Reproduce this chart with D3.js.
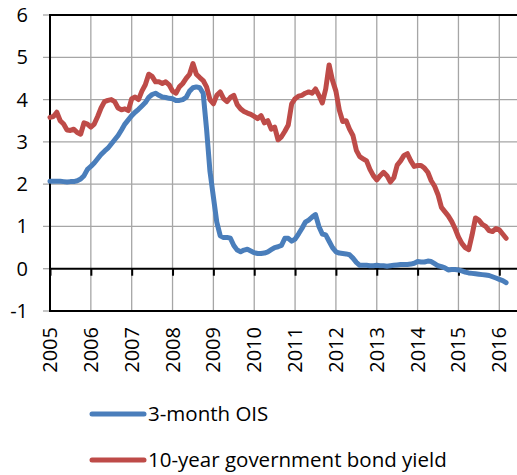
<!DOCTYPE html>
<html>
<head>
<meta charset="utf-8">
<script src="https://cdn.jsdelivr.net/npm/d3@7"></script>
<style>
  body { margin: 0; background: #fff; }
  text { font-family: "Open Sans", "Noto Sans", sans-serif; fill: #000; }
</style>
</head>
<body>
<div id="chart"></div>
<script>
// monthly, Jan 2005 .. Mar 2016
var startYear = 2005;
var oisValues = [
  2.07, 2.07, 2.07, 2.07, 2.06, 2.05, 2.06, 2.06, 2.08, 2.12, 2.2, 2.35,
  2.42, 2.5, 2.6, 2.7, 2.78, 2.85, 2.95, 3.05, 3.15, 3.28, 3.42, 3.52,
  3.62, 3.7, 3.77, 3.85, 3.93, 4.05, 4.12, 4.15, 4.1, 4.06, 4.05, 4.03,
  4.02, 3.98, 3.98, 4.0, 4.05, 4.2, 4.28, 4.3, 4.28, 4.15, 3.3, 2.3,
  1.7, 1.1, 0.78, 0.74, 0.74, 0.72, 0.55, 0.44, 0.4, 0.44, 0.46, 0.42,
  0.38, 0.36, 0.36, 0.37, 0.4, 0.45, 0.5, 0.52, 0.55, 0.72, 0.72, 0.65,
  0.7, 0.82, 0.95, 1.1, 1.15, 1.22, 1.28, 1.0, 0.82, 0.8, 0.65, 0.5,
  0.4, 0.37, 0.36, 0.35, 0.33, 0.25, 0.15, 0.08, 0.08, 0.08, 0.07, 0.07,
  0.08, 0.07, 0.07, 0.06, 0.07, 0.08, 0.09, 0.1, 0.1, 0.1, 0.11, 0.13,
  0.17, 0.16, 0.16, 0.18, 0.17, 0.12, 0.07, 0.05, 0.02, -0.03, -0.02, -0.02,
  -0.03, -0.05, -0.08, -0.1, -0.11, -0.12, -0.13, -0.14, -0.15, -0.16, -0.19, -0.22,
  -0.25, -0.28, -0.33
];
var bondValues = [
  3.58, 3.6, 3.7, 3.5, 3.42, 3.28, 3.27, 3.3, 3.22, 3.18, 3.45, 3.42,
  3.35, 3.42, 3.6, 3.8, 3.95, 3.98, 4.0, 3.95, 3.8, 3.76, 3.78, 3.74,
  4.02, 4.06, 4.0, 4.2, 4.35, 4.6, 4.55, 4.42, 4.42, 4.38, 4.42, 4.35,
  4.2, 4.15, 4.3, 4.38, 4.5, 4.6, 4.85, 4.6, 4.52, 4.45, 4.3, 4.0,
  3.9, 4.1, 4.18, 4.02, 3.95, 4.05, 4.1, 3.88, 3.78, 3.72, 3.68, 3.65,
  3.6, 3.55, 3.62, 3.45, 3.5, 3.3, 3.35, 3.05, 3.12, 3.25, 3.4, 3.9,
  4.02, 4.08, 4.1, 4.15, 4.18, 4.15, 4.25, 4.1, 3.92, 4.25, 4.82, 4.45,
  4.2, 3.75, 3.48, 3.5, 3.3, 3.15, 2.8, 2.65, 2.6, 2.55, 2.35, 2.2,
  2.1, 2.2, 2.28, 2.2, 2.05, 2.15, 2.45, 2.55, 2.68, 2.72, 2.55, 2.42,
  2.44, 2.44, 2.38, 2.28, 2.08, 1.95, 1.75, 1.45, 1.35, 1.25, 1.12, 0.95,
  0.75, 0.6, 0.5, 0.45, 0.8, 1.2, 1.15, 1.05, 1.0, 0.9, 0.88, 0.95,
  0.92, 0.82, 0.72
];
var yearTicks = [2005, 2006, 2007, 2008, 2009, 2010, 2011, 2012, 2013, 2014, 2015, 2016];
var valueTicks = [-1, 0, 1, 2, 3, 4, 5, 6];
var seriesNames = ['3-month OIS', '10-year government bond yield'];
var seriesColors = ['#4a7ebb', '#be4b48'];

var width = 517;
var height = 475;
var plotLeft = 50;
var plotTop = 15;
var plotRight = 517;
var plotBottom = 311;

var svg = d3.select('#chart').append('svg')
  .attr('width', width)
  .attr('height', height);

var x = d3.scaleLinear()
  .domain([2005, 2016])
  .range([plotLeft, 499.3]);
var y = d3.scaleLinear()
  .domain([-1, 6])
  .range([plotBottom, plotTop]);

// grid
var grid = svg.append('g').attr('class', 'grid');
grid.selectAll('.hgrid')
  .data(valueTicks.filter(function (d) { return d > 0 && d < 6; }))
  .enter().append('line')
  .attr('x1', plotLeft - 7).attr('x2', plotRight)
  .attr('y1', function (d) { return y(d); })
  .attr('y2', function (d) { return y(d); })
  .style('stroke', '#a6a6a6').style('stroke-width', 1.3);
grid.selectAll('.vgrid')
  .data(yearTicks.slice(1))
  .enter().append('line')
  .attr('x1', function (d) { return x(d); })
  .attr('x2', function (d) { return x(d); })
  .attr('y1', plotTop).attr('y2', plotBottom)
  .style('stroke', '#a6a6a6').style('stroke-width', 1.3);
// short gray ticks left of the axis
grid.selectAll('.ytick')
  .data([-1, 0, 6])
  .enter().append('line')
  .attr('x1', plotLeft - 7).attr('x2', plotLeft)
  .attr('y1', function (d) { return y(d); })
  .attr('y2', function (d) { return y(d); })
  .style('stroke', '#a6a6a6').style('stroke-width', 1.3);

// frame
var frame = svg.append('g').attr('class', 'frame');
frame.append('line')
  .attr('x1', plotLeft).attr('x2', plotRight).attr('y1', y(6)).attr('y2', y(6))
  .style('stroke', '#000').style('stroke-width', 2);
frame.append('line')
  .attr('x1', plotLeft).attr('x2', plotRight).attr('y1', y(-1)).attr('y2', y(-1))
  .style('stroke', '#000').style('stroke-width', 2);
frame.append('line')
  .attr('x1', plotLeft).attr('x2', plotLeft).attr('y1', plotTop - 1).attr('y2', plotBottom + 1)
  .style('stroke', '#000').style('stroke-width', 2);

// zero axis with ticks
var xAxis = d3.axisBottom(x)
  .tickValues(yearTicks)
  .tickSize(7)
  .tickFormat('');
var zeroAxis = svg.append('g')
  .attr('transform', 'translate(0,' + y(0) + ')')
  .call(xAxis);
zeroAxis.select('.domain').remove();
zeroAxis.append('line')
  .attr('x1', plotLeft).attr('x2', plotRight)
  .style('stroke', '#000').style('stroke-width', 2);
zeroAxis.selectAll('.tick line').style('stroke', '#000').style('stroke-width', 2);

// y labels
svg.append('g').selectAll('text')
  .data(valueTicks)
  .enter().append('text')
  .attr('x', 28)
  .attr('y', function (d) { return y(d); })
  .attr('dy', '0.35em')
  .attr('text-anchor', 'end')
  .style('font-size', '20px')
  .text(function (d) { return d; });

// x labels, rotated
svg.append('g').selectAll('text')
  .data(yearTicks)
  .enter().append('text')
  .attr('transform', function (d) { return 'translate(' + x(d) + ',327) rotate(-90)'; })
  .attr('dy', '0.35em')
  .attr('text-anchor', 'end')
  .style('font-size', '20px')
  .text(function (d) { return d; });

// lines
var line = d3.line()
  .x(function (d, i) { return x(startYear + i / 12); })
  .y(function (d) { return y(d); });
[bondValues, oisValues].forEach(function (vals, k) {
  svg.append('path')
    .datum(vals)
    .attr('d', line)
    .style('fill', 'none')
    .style('stroke', seriesColors[1 - k])
    .style('stroke-width', 5)
    .style('stroke-linejoin', 'round')
    .style('stroke-linecap', 'round');
});

// legend
var legend = svg.append('g').selectAll('g')
  .data(seriesNames)
  .enter().append('g')
  .attr('transform', function (d, i) { return 'translate(0,' + (414 + i * 46) + ')'; });
legend.append('line')
  .attr('x1', 92).attr('x2', 144)
  .style('stroke', function (d, i) { return seriesColors[i]; })
  .style('stroke-width', 5)
  .style('stroke-linecap', 'round');
legend.append('text')
  .attr('x', 148)
  .attr('dy', '0.35em')
  .style('font-size', '20.5px')
  .text(function (d) { return d; });
</script>
</body>
</html>
